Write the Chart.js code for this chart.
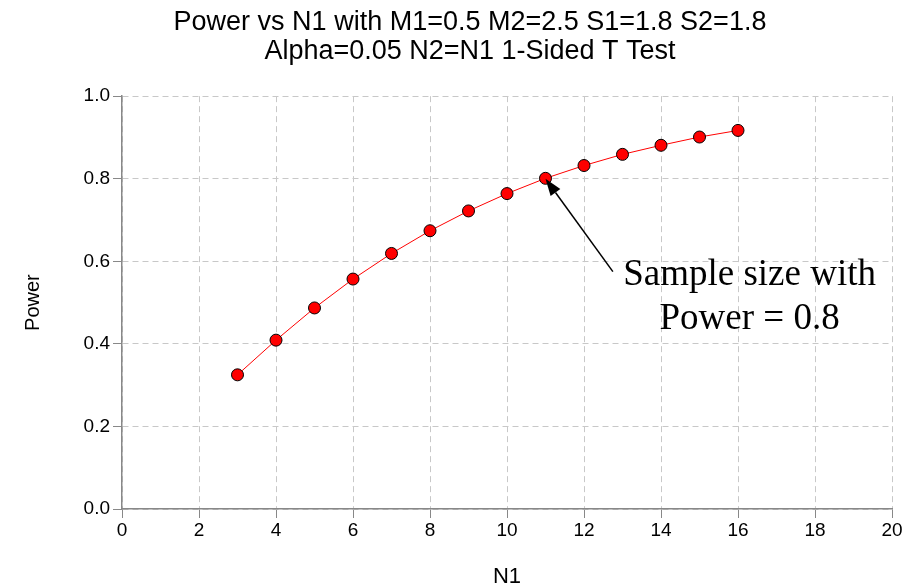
<!DOCTYPE html>
<html>
<head>
<meta charset="utf-8">
<script src="https://cdn.jsdelivr.net/npm/chart.js@4.4.1/dist/chart.umd.min.js"></script>
<style>
  html, body { margin: 0; padding: 0; background: #fff; }
  #wrap { width: 924px; height: 586px; }
</style>
</head>
<body>
<div id="wrap"><canvas id="powerChart"></canvas></div>
<script>
// data
const n1Values = [3, 4, 5, 6, 7, 8, 9, 10, 11, 12, 13, 14, 15, 16];
const powerValues = [0.325, 0.409, 0.487, 0.557, 0.619, 0.674, 0.722, 0.764, 0.801, 0.832, 0.859, 0.881, 0.901, 0.917];

const titleLines = ['Power vs N1 with M1=0.5 M2=2.5 S1=1.8 S2=1.8', 'Alpha=0.05 N2=N1 1-Sided T Test'];
const noteLines = ['Sample size with', 'Power = 0.8'];

// annotation anchors in data units
const arrowTip = { x: 11, y: 0.8 };
const arrowTail = { x: 12.75, y: 0.575 };
const noteAnchor = { x: 16.3, y: 0.542 };

const GRID = '#c8c8c8';
const AXIS = '#888888';
const SANS = '"Liberation Sans", Arial, sans-serif';

const arrowNote = {
  id: 'arrowNote',
  afterDatasetsDraw(chart) {
    const { ctx, scales: { x, y } } = chart;
    const tx = x.getPixelForValue(arrowTip.x), ty = y.getPixelForValue(arrowTip.y);
    const sx = x.getPixelForValue(arrowTail.x), sy = y.getPixelForValue(arrowTail.y);
    const ang = Math.atan2(ty - sy, tx - sx);
    const headLen = 17, headW = 6;
    const bx = tx - headLen * Math.cos(ang), by = ty - headLen * Math.sin(ang);

    ctx.save();
    ctx.strokeStyle = '#000';
    ctx.fillStyle = '#000';
    ctx.lineWidth = 1.5;
    ctx.beginPath();
    ctx.moveTo(sx, sy);
    ctx.lineTo(bx, by);
    ctx.stroke();
    ctx.beginPath();
    ctx.moveTo(tx, ty);
    ctx.lineTo(bx + headW * Math.sin(ang), by - headW * Math.cos(ang));
    ctx.lineTo(bx - headW * Math.sin(ang), by + headW * Math.cos(ang));
    ctx.closePath();
    ctx.fill();

    ctx.font = '37px "Liberation Serif", "Times New Roman", serif';
    ctx.textAlign = 'center';
    ctx.textBaseline = 'alphabetic';
    const cx = x.getPixelForValue(noteAnchor.x);
    const cy = y.getPixelForValue(noteAnchor.y);
    noteLines.forEach((t, i) => ctx.fillText(t, cx, cy + i * 44));
    ctx.restore();
  }
};

new Chart(document.getElementById('powerChart'), {
  type: 'line',
  data: {
    datasets: [{
      data: n1Values.map((v, i) => ({ x: v, y: powerValues[i] })),
      borderColor: '#ff0000',
      borderWidth: 1,
      backgroundColor: '#ff0000',
      pointBackgroundColor: '#ff0000',
      pointBorderColor: '#000',
      pointBorderWidth: 1,
      pointRadius: 6,
      tension: 0
    }]
  },
  options: {
    responsive: true,
    maintainAspectRatio: false,
    animation: false,
    // left padding shifts the title centre to match the reference
    layout: { padding: { left: 48, right: 32, top: 0, bottom: 0 } },
    plugins: {
      legend: { display: false },
      tooltip: { enabled: false },
      title: {
        display: true,
        text: titleLines,
        color: '#000',
        font: { family: SANS, size: 27, weight: 'normal', lineHeight: 1.04 },
        padding: { top: 9, bottom: 31 }
      }
    },
    scales: {
      x: {
        type: 'linear',
        min: 0,
        max: 20,
        ticks: { stepSize: 2, color: '#000', padding: 1, font: { family: SANS, size: 19 } },
        grid: { color: GRID, tickColor: AXIS, tickLength: 9, tickBorderDash: [] },
        border: { display: true, color: AXIS, width: 1.5, dash: [6, 4] },
        title: { display: true, text: 'N1', color: '#000', padding: { top: 13, bottom: -2 }, font: { family: SANS, size: 22, lineHeight: 1.0 } },
        afterFit(scale) { scale.height = 77; }
      },
      y: {
        min: 0,
        max: 1,
        ticks: { stepSize: 0.2, color: '#000', padding: 3, callback: v => v.toFixed(1), font: { family: SANS, size: 19 } },
        grid: { color: GRID, tickColor: AXIS, tickLength: 9, tickBorderDash: [] },
        border: { display: true, color: AXIS, width: 1.5, dash: [6, 4] },
        title: { display: true, text: 'Power', color: '#000', padding: { top: -27, bottom: 0 }, font: { family: SANS, size: 20 } },
        afterFit(scale) { scale.width = 74; }
      }
    }
  },
  plugins: [arrowNote]
});
</script>
</body>
</html>
